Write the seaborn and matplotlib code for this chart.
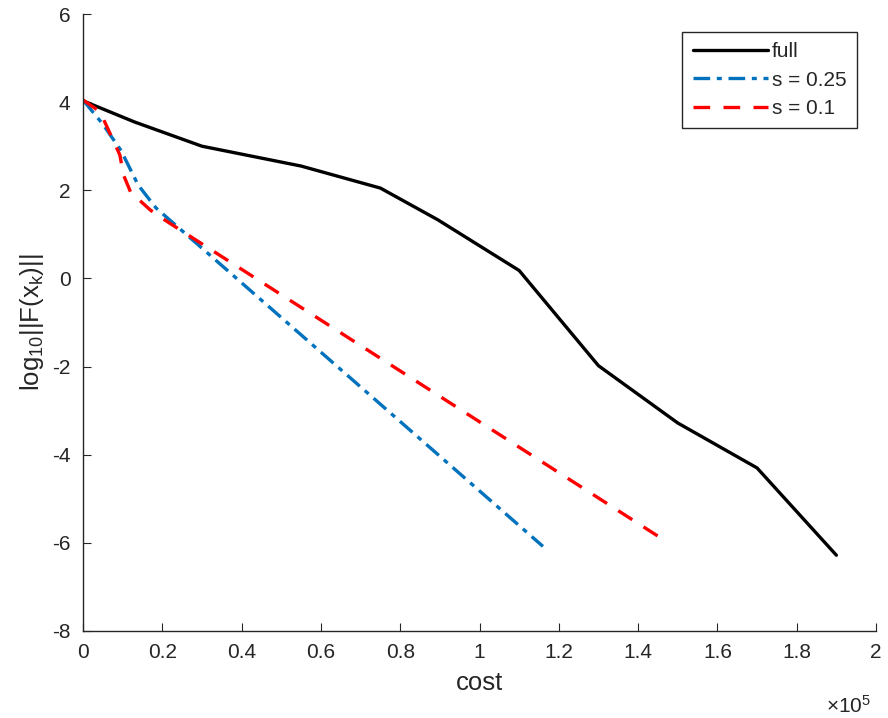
import matplotlib
matplotlib.use("Agg")
import matplotlib.pyplot as plt
import seaborn as sns
import pandas as pd
from matplotlib.ticker import FuncFormatter

# Data (cost in raw units, value = log10 ||F(x_k)||)
full_cost = [0, 13000, 30000, 55000, 75000, 89500, 110000, 130000, 150000, 170000, 190000]
full_val = [4.03, 3.55, 3.0, 2.55, 2.05, 1.33, 0.18, -1.98, -3.28, -4.30, -6.28]

s025_cost = [0, 5000, 9600, 13900, 18400, 116000]
s025_val = [4.05, 3.5, 2.9, 2.12, 1.6, -6.08]

s01_cost = [0, 4300, 6000, 9300, 10200, 12000, 17000, 21400, 147300]
s01_val = [4.05, 3.78, 3.45, 2.8, 2.35, 1.96, 1.55, 1.28, -5.98]

x_ticks = [0, 20000, 40000, 60000, 80000, 100000, 120000, 140000, 160000, 180000, 200000]
y_ticks = [-8, -6, -4, -2, 0, 2, 4, 6]

sns.set_theme(style="white")
plt.rcParams['font.family'] = ['Liberation Sans', 'DejaVu Sans']
plt.rcParams['mathtext.fontset'] = 'custom'
plt.rcParams['mathtext.rm'] = 'Liberation Sans'
plt.rcParams['mathtext.it'] = 'Liberation Sans'
plt.rcParams['mathtext.default'] = 'regular'

fig = plt.figure(figsize=(8.88, 7.18), dpi=100)
ax = fig.add_axes([83/888, 1 - 631/718, 793/888, 617/718])

df_full = pd.DataFrame({"cost": full_cost, "val": full_val})
df_s025 = pd.DataFrame({"cost": s025_cost, "val": s025_val})
df_s01 = pd.DataFrame({"cost": s01_cost, "val": s01_val})

sns.lineplot(data=df_full, x="cost", y="val", sort=False, ax=ax, color="black",
             linewidth=2.4, label="full")
sns.lineplot(data=df_s025, x="cost", y="val", sort=False, ax=ax, color="#0072BD",
             linewidth=2.4, label="s = 0.25")
ax.lines[-1].set_dashes([5, 2, 1.5, 2])
sns.lineplot(data=df_s01, x="cost", y="val", sort=False, ax=ax, color="#FF0000",
             linewidth=2.4, label="s = 0.1")
ax.lines[-1].set_dashes([5, 4])

ax.set_xlim(0, 200000)
ax.set_ylim(-8, 6)
ax.set_xticks(x_ticks)
ax.set_yticks(y_ticks)
ax.xaxis.set_major_formatter(FuncFormatter(lambda v, p: "%g" % (v / 1e5)))
ax.yaxis.set_major_formatter(FuncFormatter(lambda v, p: "%g" % v))

for side in ["top", "right"]:
    ax.spines[side].set_visible(False)
for side in ["left", "bottom"]:
    ax.spines[side].set_color("#262626")
    ax.spines[side].set_linewidth(1.0)

ax.tick_params(axis="both", which="major", direction="in", length=6, width=0.8,
               colors="#262626", labelsize=15, labelcolor="#262626",
               left=True, bottom=True, pad=9)

ax.set_xlabel("cost", fontsize=18.5, color="#262626", labelpad=6)
ax.set_ylabel(r"log$_{10}$||F(x$_k$)||", fontsize=18.5, color="#262626", labelpad=4)

ax.text(0.994, -0.133, "×10$^5$", transform=ax.transAxes, ha="right",
        va="baseline", fontsize=15, color="#262626")

leg = ax.legend(loc="upper right", bbox_to_anchor=(0.976, 0.971), fontsize=15,
                frameon=True, fancybox=False, edgecolor="#262626", framealpha=1,
                handlelength=3.6, borderpad=0.5, labelspacing=0.45, handletextpad=0.2,
                borderaxespad=0)
leg.get_frame().set_linewidth(1.0)

fig.savefig("out.png", dpi=100)
